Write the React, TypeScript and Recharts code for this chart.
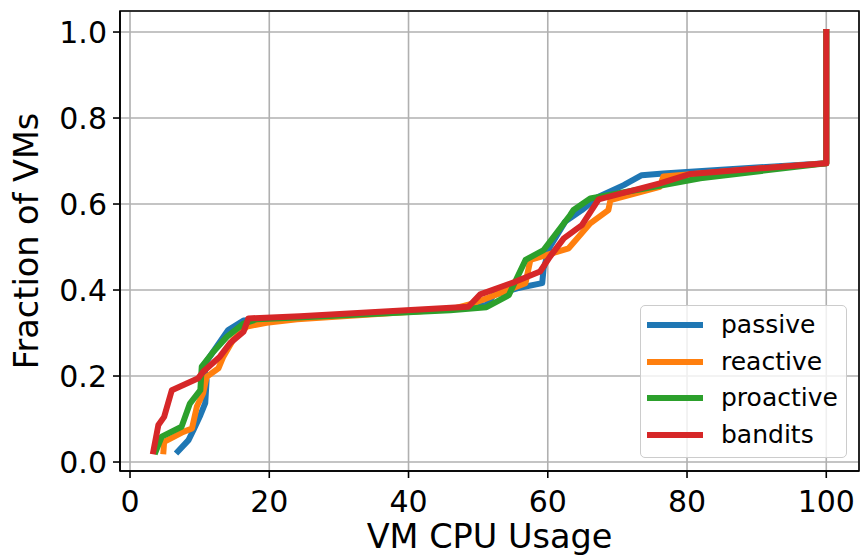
import React from 'react';
import {
  LineChart, Line, XAxis, YAxis, CartesianGrid, Legend, ReferenceArea, Label,
} from 'recharts';

const passiveX = [6.9, 8.4, 9.1, 10.1, 10.8, 11.0, 10.6, 14.1, 16.3, 22, 46, 51.2, 52.2, 55.6, 59.2, 59.4, 60.3, 62.5, 64.9, 67.3, 70.9, 73.5, 76.6, 100, 100];
const passiveY = [0.025, 0.051, 0.074, 0.109, 0.137, 0.19, 0.225, 0.307, 0.329, 0.335, 0.356, 0.365, 0.388, 0.404, 0.416, 0.45, 0.5, 0.559, 0.586, 0.617, 0.644, 0.667, 0.671, 0.695, 1.0];

const reactiveX = [4.8, 4.9, 7.65, 8.9, 9.6, 10.5, 11.0, 12.7, 13.4, 14.8, 16.8, 19.6, 24, 46, 48.9, 50.8, 56.8, 57.5, 63.0, 66.1, 68.7, 69.0, 76.1, 76.6, 100, 100];
const reactiveY = [0.025, 0.047, 0.07, 0.078, 0.129, 0.16, 0.198, 0.218, 0.245, 0.284, 0.315, 0.324, 0.332, 0.355, 0.367, 0.378, 0.416, 0.47, 0.497, 0.555, 0.586, 0.609, 0.64, 0.664, 0.695, 1.0];

const proactiveX = [3.7, 4.55, 7.4, 8.6, 10.1, 10.3, 12.0, 13.9, 16.3, 18.2, 24, 46, 51.2, 54.4, 56.8, 59.4, 63.2, 63.7, 66.1, 81.9, 100, 100];
const proactiveY = [0.025, 0.059, 0.082, 0.136, 0.167, 0.222, 0.257, 0.291, 0.322, 0.332, 0.336, 0.353, 0.36, 0.388, 0.47, 0.493, 0.574, 0.586, 0.613, 0.66, 0.695, 1.0];

const banditsX = [3.35, 4.07, 4.9, 6.0, 9.8, 10.5, 12.9, 14.4, 16.3, 17.0, 24.4, 48.6, 50.3, 55.3, 58.9, 60.3, 62.3, 64.9, 67.3, 76.1, 80.5, 100, 100];
const banditsY = [0.025, 0.086, 0.105, 0.167, 0.195, 0.21, 0.245, 0.277, 0.303, 0.334, 0.339, 0.361, 0.39, 0.419, 0.443, 0.477, 0.52, 0.551, 0.611, 0.648, 0.67, 0.695, 1.0];

const seriesNames = ['passive', 'reactive', 'proactive', 'bandits'];
const seriesColors = ['#1f77b4', '#ff7f0e', '#2ca02c', '#d62728'];

const xTicks = [0, 20, 40, 60, 80, 100];
const yTicks = [0, 0.2, 0.4, 0.6, 0.8, 1.0];
const xTickLabels = ['0', '20', '40', '60', '80', '100'];
const yTickLabels = ['0.0', '0.2', '0.4', '0.6', '0.8', '1.0'];

const X_DOMAIN: [number, number] = [-1.44, 104.7];
const Y_DOMAIN: [number, number] = [-0.0209, 1.0489];

const zip = (xs: number[], ys: number[]) => xs.map((x, i) => ({ x, y: ys[i] }));
const seriesData = [
  zip(passiveX, passiveY),
  zip(reactiveX, reactiveY),
  zip(proactiveX, proactiveY),
  zip(banditsX, banditsY),
];

const FONT = '"DejaVu Sans", sans-serif';
const LINE_W = 6;

const renderLegend = () => {
  return (
    <div
      style={{
        position: 'relative',
        width: 207,
        height: 153,
        boxSizing: 'border-box',
        border: '1.5px solid #cccccc',
        borderRadius: 5,
        background: 'rgba(255,255,255,0.8)',
        fontFamily: FONT,
      }}
    >
      {seriesNames.map((name, i) => (
        <div
          key={name}
          style={{
            position: 'absolute',
            left: 0,
            top: 19 + i * 36.7 - 15,
            height: 30,
            display: 'flex',
            alignItems: 'center',
          }}
        >
          <svg width={80} height={30} style={{ display: 'block' }}>
            <line x1={6} y1={15} x2={62} y2={15} stroke={seriesColors[i]} strokeWidth={LINE_W} />
          </svg>
          <span style={{ fontSize: 25, color: '#000', lineHeight: '30px' }}>{name}</span>
        </div>
      ))}
    </div>
  );
};

export default function App() {
  return (
    <div style={{ width: 861, height: 557, position: 'relative' }}>
      <style>{`body{margin:0;overflow:hidden;background:#fff}`}</style>
      <LineChart
        width={861}
        height={557}
        margin={{ top: 11, right: 2, left: 0, bottom: 0 }}
        style={{ fontFamily: FONT }}
      >
        <CartesianGrid stroke="#b0b0b0" strokeWidth={1.6} />
        <XAxis
          type="number"
          dataKey="x"
          domain={X_DOMAIN}
          allowDataOverflow
          ticks={xTicks}
          tickFormatter={(v: number) => xTickLabels[xTicks.indexOf(v)] ?? String(v)}
          height={86}
          tickSize={7}
          tickMargin={13}
          tick={{ fill: '#000', fontSize: 30, fontFamily: FONT }}
          tickLine={{ stroke: '#000', strokeWidth: 1.6 }}
          axisLine={{ stroke: '#000', strokeWidth: 1.6 }}
          interval={0}
        >
          <Label
            content={(p: any) => {
              const vb = p.viewBox || { x: 120, y: 471, width: 739 };
              return (
                <text x={vb.x + vb.width / 2} y={548} textAnchor="middle" fontSize={33.5} fontFamily={FONT} fill="#000">
                  VM CPU Usage
                </text>
              );
            }}
          />
        </XAxis>
        <YAxis
          type="number"
          dataKey="y"
          domain={Y_DOMAIN}
          allowDataOverflow
          ticks={yTicks}
          tickFormatter={(v: number) => yTickLabels[yTicks.indexOf(v)] ?? String(v)}
          width={120}
          tickSize={7}
          tickMargin={6}
          tick={{ fill: '#000', fontSize: 30, fontFamily: FONT }}
          tickLine={{ stroke: '#000', strokeWidth: 1.6 }}
          axisLine={{ stroke: '#000', strokeWidth: 1.6 }}
          interval={0}
        >
          <Label
            content={(p: any) => {
              const vb = p.viewBox || { x: 0, y: 11, height: 460 };
              const cy = vb.y + vb.height / 2;
              return (
                <text
                  x={26}
                  y={cy}
                  transform={`rotate(-90 26 ${cy})`}
                  textAnchor="middle"
                  dominantBaseline="central"
                  fontSize={33.5}
                  fontFamily={FONT}
                  fill="#000"
                >
                  Fraction of VMs
                </text>
              );
            }}
          />
        </YAxis>
        {seriesData.map((d, i) => (
          <Line
            key={seriesNames[i]}
            data={d}
            dataKey="y"
            name={seriesNames[i]}
            type="linear"
            stroke={seriesColors[i]}
            strokeWidth={LINE_W}
            strokeLinejoin="round"
            strokeLinecap="square"
            dot={false}
            activeDot={false}
            isAnimationActive={false}
          />
        ))}
        <ReferenceArea
          x1={X_DOMAIN[0]}
          x2={X_DOMAIN[1]}
          y1={Y_DOMAIN[0]}
          y2={Y_DOMAIN[1]}
          fill="none"
          fillOpacity={0}
          stroke="#000"
          strokeWidth={1.6}
          ifOverflow="extendDomain"
        />
        <Legend
          layout="vertical"
          align="center"
          verticalAlign="middle"
          content={renderLegend}
          wrapperStyle={{ position: 'absolute', left: 640, top: 305, width: 207, height: 153 }}
        />
      </LineChart>
    </div>
  );
}
